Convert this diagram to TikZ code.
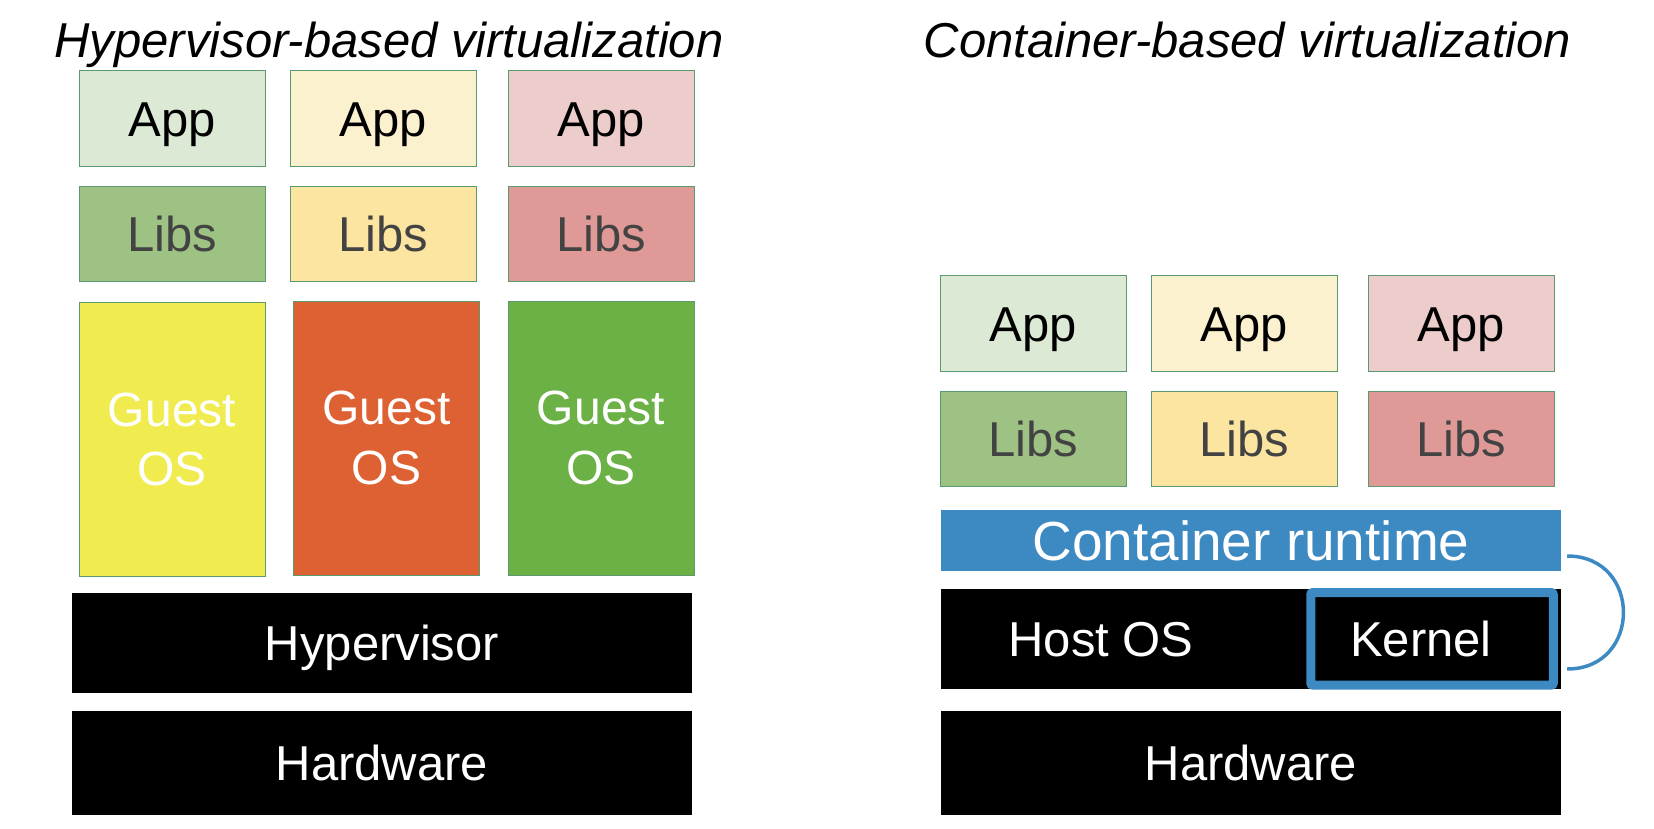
\documentclass[tikz,border=0pt]{standalone}
\usepackage{fontspec}
\setmainfont{Liberation Sans}
\usetikzlibrary{positioning,calc}
\definecolor{edgec}{HTML}{5B9A6F}
\definecolor{appg}{HTML}{DCE9D5}
\definecolor{appy}{HTML}{FCF1CF}
\definecolor{appr}{HTML}{EDCDCB}
\definecolor{libg}{HTML}{9DC284}
\definecolor{liby}{HTML}{FBE5A1}
\definecolor{libr}{HTML}{DF9A98}
\definecolor{libtxt}{HTML}{434343}
\definecolor{gosy}{HTML}{F0EC50}
\definecolor{gosr}{HTML}{DE6133}
\definecolor{gosg}{HTML}{6BB146}
\definecolor{rtc}{HTML}{3D8AC3}
\newcommand\lblfont{\fontsize{49}{59}\selectfont}
\tikzset{
  box/.style     = {draw=edgec, line width=1pt, minimum width=186pt, minimum height=95.6pt,
                    inner sep=0pt, font=\lblfont, text height=35pt, text depth=0pt},
  appbox/.style  = {box},
  libbox/.style  = {box, text=libtxt},
  guestbox/.style= {draw=edgec, line width=1pt, minimum width=186pt, minimum height=274pt,
                    inner sep=0pt, font=\fontsize{48}{59.3}\selectfont, text=white, align=center},
  bar/.style     = {fill=black, text=white, minimum width=620pt, minimum height=100pt,
                    inner sep=0pt, font=\lblfont, text height=35pt, text depth=0pt},
  bartext/.style = {text=white, inner sep=0pt, font=\lblfont, text height=35pt, text depth=0pt},
  rtbar/.style   = {fill=rtc, text=white, minimum width=620pt, minimum height=61pt, inner sep=0pt,
                    font=\fontsize{55}{66}\selectfont, text height=39.4pt, text depth=0pt},
  kernelbox/.style = {draw=rtc, line width=9pt, fill=black, rounded corners=2pt,
                    minimum width=242.5pt, minimum height=92.5pt, inner sep=0pt},
  title/.style   = {font=\fontsize{49}{59}\selectfont\itshape, anchor=base, inner sep=0pt},
  link/.style    = {draw=rtc, line width=3.5pt},
}
\begin{document}
\begin{tikzpicture}[x=1pt,y=-1pt]
\useasboundingbox (0,0) rectangle (1654,828);

% ---- titles ----
\node[title] (thyp) at (389,57) {Hypervisor-based virtualization};
\node[title] (tcon) at (1247.5,57) {Container-based virtualization};

% ---- left: hypervisor stack ----
\node[appbox, fill=appg] (app1) at (172,118.5) {App};
\node[appbox, fill=appy, right=24pt of app1] (app2) {App};
\node[appbox, fill=appr, right=31pt of app2] (app3) {App};
\node[libbox, fill=libg, below=18.7pt of app1] (libs1) {Libs};
\node[libbox, fill=liby, below=18.7pt of app2] (libs2) {Libs};
\node[libbox, fill=libr, below=18.7pt of app3] (libs3) {Libs};
\node[guestbox, fill=gosy, below=20pt of libs1] (gos1) {Guest\\OS};
\node[guestbox, fill=gosr, below=18.5pt of libs2, xshift=3.5pt] (gos2) {Guest\\OS};
\node[guestbox, fill=gosg, below=18.5pt of libs3] (gos3) {Guest\\OS};
\node[bar] (hyp) at (382,643) {Hypervisor};
\node[bar, minimum height=104pt] (hw1) at (382,763) {Hardware};

% ---- right: container stack ----
\node[appbox, fill=appg] (app4) at (1033,323.5) {App};
\node[appbox, fill=appy, right=24pt of app4] (app5) {App};
\node[appbox, fill=appr, right=30.5pt of app5] (app6) {App};
\node[libbox, fill=libg, below=18.7pt of app4] (libs4) {Libs};
\node[libbox, fill=liby, below=18.7pt of app5] (libs5) {Libs};
\node[libbox, fill=libr, below=18.7pt of app6] (libs6) {Libs};
\node[rtbar] (runtime) at (1251,540.5) {Container runtime};
\node[bar] (host) at (1251,639) {};
\node[bartext] (hosttxt) at (1101,639) {Host OS};
\node[kernelbox] (kernel) at (1432,638.8) {};
\node[bartext] (kerneltxt) at (1421,639) {Kernel};
\node[bar, minimum height=104pt] (hw2) at (1251,763) {Hardware};

% runtime <-> kernel bracket
\coordinate (rtend) at ($(runtime.east)+(6,15.5)$);
\coordinate (knend) at ($(host.east)+(6,30)$);
\draw[link] (rtend) .. controls +(75,0) and +(75,0) .. (knend);

\end{tikzpicture}
\end{document}
